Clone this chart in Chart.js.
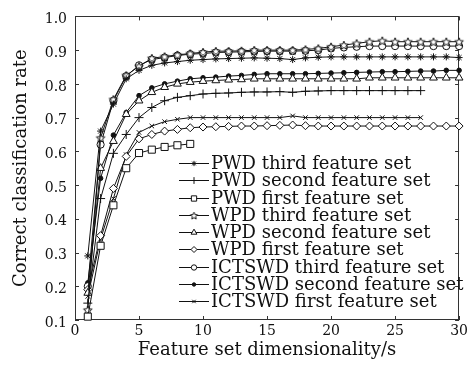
<!DOCTYPE html>
<html>
<head>
<meta charset="utf-8">
<script src="https://cdn.jsdelivr.net/npm/chart.js@4"></script>
<style>
  html, body { margin: 0; padding: 0; background: #fff; }
  #c { display: block; }
</style>
</head>
<body>
<canvas id="c" width="471" height="367"></canvas>
<script>
// ---------- data ----------
const dims = [1,2,3,4,5,6,7,8,9,10,11,12,13,14,15,16,17,18,19,20,21,22,23,24,25,26,27,28,29,30];
const xTicks = [0,5,10,15,20,25,30];
const yTicks = [0.1,0.2,0.3,0.4,0.5,0.6,0.7,0.8,0.9,1.0];

const pwdThird  = [0.29,0.66,0.74,0.815,0.84,0.855,0.862,0.866,0.870,0.872,0.874,0.875,0.876,0.877,0.876,0.875,0.872,0.877,0.879,0.880,0.880,0.880,0.880,0.880,0.880,0.880,0.880,0.880,0.880,0.878];
const pwdSecond = [0.15,0.46,0.594,0.65,0.70,0.73,0.75,0.76,0.765,0.77,0.772,0.773,0.775,0.776,0.776,0.777,0.775,0.778,0.779,0.780,0.780,0.780,0.780,0.780,0.780,0.780,0.780];
const pwdFirst  = [0.11,0.32,0.44,0.55,0.595,0.605,0.613,0.618,0.622];
const wpdThird  = [0.13,0.64,0.754,0.825,0.852,0.876,0.881,0.886,0.890,0.894,0.897,0.897,0.898,0.900,0.900,0.900,0.900,0.902,0.905,0.910,0.915,0.920,0.925,0.928,0.925,0.925,0.925,0.925,0.925,0.925];
const wpdSecond = [0.18,0.55,0.63,0.71,0.75,0.775,0.79,0.80,0.805,0.808,0.81,0.812,0.813,0.815,0.815,0.815,0.815,0.815,0.815,0.815,0.815,0.815,0.818,0.818,0.818,0.818,0.818,0.818,0.818,0.818];
const wpdFirst  = [0.19,0.35,0.49,0.585,0.637,0.65,0.66,0.665,0.67,0.672,0.673,0.674,0.675,0.675,0.676,0.677,0.678,0.676,0.675,0.675,0.675,0.675,0.675,0.675,0.675,0.675,0.675,0.675,0.675,0.675];
const ictThird  = [0.20,0.62,0.75,0.823,0.855,0.872,0.878,0.884,0.888,0.890,0.893,0.894,0.895,0.896,0.897,0.897,0.897,0.898,0.900,0.905,0.908,0.910,0.912,0.912,0.912,0.912,0.912,0.912,0.912,0.912];
const ictSecond = [0.21,0.52,0.648,0.715,0.765,0.788,0.80,0.808,0.815,0.818,0.82,0.823,0.825,0.828,0.830,0.830,0.830,0.830,0.831,0.832,0.833,0.834,0.835,0.836,0.836,0.837,0.838,0.838,0.840,0.840];
const ictFirst  = [0.17,0.34,0.46,0.59,0.656,0.675,0.688,0.695,0.70,0.70,0.70,0.70,0.70,0.70,0.70,0.70,0.705,0.70,0.70,0.70,0.70,0.70,0.70,0.70,0.70,0.70,0.70];

const labels = [
  'PWD third feature set','PWD second feature set','PWD first feature set',
  'WPD third feature set','WPD second feature set','WPD first feature set',
  'ICTSWD third feature set','ICTSWD second feature set','ICTSWD first feature set'
];

// ---------- styles ----------
const INK = '#111';
const SERIF = '"DejaVu Serif", serif';

function makePentagram(r) {
  const s = Math.ceil(r * 2 + 3);
  const c = document.createElement('canvas');
  c.width = s; c.height = s;
  const g = c.getContext('2d');
  g.translate(s / 2, s / 2 + 0.5);
  g.beginPath();
  for (let i = 0; i < 10; i++) {
    const rr = i % 2 ? r * 0.45 : r;
    const a = -Math.PI / 2 + i * Math.PI / 5;
    g.lineTo(rr * Math.cos(a), rr * Math.sin(a));
  }
  g.closePath();
  g.fillStyle = '#fff'; g.fill();
  g.strokeStyle = INK; g.lineWidth = 1; g.stroke();
  return c;
}
const pentagram = makePentagram(4.5);
const pentagramSmall = makePentagram(3.8);

const seriesValues = [pwdThird, pwdSecond, pwdFirst, wpdThird, wpdSecond, wpdFirst, ictThird, ictSecond, ictFirst];
const markerStyles = [
  {pointStyle: 'star', radius: 3.5, fill: INK},
  {pointStyle: 'cross', radius: 4.5, fill: INK},
  {pointStyle: 'rect', radius: 5, fill: '#fff'},
  {pointStyle: pentagram, radius: 4.5, fill: '#fff', legendStyle: pentagramSmall},
  {pointStyle: 'triangle', radius: 4.5, fill: '#fff'},
  {pointStyle: 'rectRot', radius: 4, fill: '#fff'},
  {pointStyle: 'circle', radius: 3.6, fill: '#fff'},
  {pointStyle: 'circle', radius: 2.3, fill: INK},
  {pointStyle: 'crossRot', radius: 3.2, fill: INK}
];

const datasets = seriesValues.map((vals, i) => ({
  label: labels[i],
  data: vals.map((v, j) => ({x: dims[j], y: v})),
  borderColor: INK,
  borderWidth: 1,
  pointStyle: markerStyles[i].pointStyle,
  pointRadius: markerStyles[i].radius,
  pointBorderColor: INK,
  pointBackgroundColor: markerStyles[i].fill,
  pointBorderWidth: 1,
  tension: 0,
  fill: false,
  clip: false
}));

// frame with inward ticks on all four sides
const framePlugin = {
  id: 'frame',
  beforeDatasetsDraw(chart) {
    const {ctx, chartArea: a, scales: {x, y}} = chart;
    ctx.save();
    ctx.strokeStyle = '#333';
    ctx.lineWidth = 1;
    ctx.strokeRect(Math.round(a.left) + 0.5, Math.round(a.top) + 0.5,
                   Math.round(a.right - a.left) - 1, Math.round(a.bottom - a.top) - 1);
    const L = 4;
    ctx.beginPath();
    xTicks.forEach(v => {
      const px = Math.round(x.getPixelForValue(v)) + 0.5;
      ctx.moveTo(px, a.bottom); ctx.lineTo(px, a.bottom - L);
      ctx.moveTo(px, a.top); ctx.lineTo(px, a.top + L);
    });
    yTicks.forEach(v => {
      const py = Math.round(y.getPixelForValue(v)) + 0.5;
      ctx.moveTo(a.left, py); ctx.lineTo(a.left + L, py);
      ctx.moveTo(a.right, py); ctx.lineTo(a.right - L, py);
    });
    ctx.stroke();
    ctx.restore();
  }
};

// legend drawn inside the plot area
const legendPlugin = {
  id: 'insideLegend',
  afterDatasetsDraw(chart) {
    const {ctx} = chart;
    const x0 = 179, x1 = 209, tx = 211, y0 = 163, dy = 17.25;
    ctx.save();
    ctx.font = '18px ' + SERIF;
    ctx.textBaseline = 'middle';
    ctx.textAlign = 'left';
    chart.data.datasets.forEach((ds, i) => {
      const yy = Math.round(y0 + i * dy) + 0.5;
      ctx.strokeStyle = INK; ctx.lineWidth = 1;
      ctx.beginPath(); ctx.moveTo(x0, yy); ctx.lineTo(x1, yy); ctx.stroke();
      ctx.fillStyle = ds.pointBackgroundColor;
      ctx.strokeStyle = ds.pointBorderColor;
      Chart.helpers.drawPoint(ctx, {
        pointStyle: markerStyles[i].legendStyle || ds.pointStyle,
        radius: ds.pointRadius * 0.75,
        borderWidth: 1,
        rotation: 0
      }, (x0 + x1) / 2, yy);
      ctx.fillStyle = INK;
      ctx.fillText(ds.label, tx, yy + 1);
    });
    ctx.restore();
  }
};

new Chart(document.getElementById('c'), {
  type: 'line',
  data: {datasets},
  options: {
    responsive: false,
    animation: false,
    layout: {padding: {top: 13, right: 6, left: 0, bottom: 0}},
    plugins: {legend: {display: false}, tooltip: {enabled: false}},
    scales: {
      x: {
        type: 'linear', min: 0, max: 30,
        afterBuildTicks: s => { s.ticks = xTicks.map(v => ({value: v})); },
        afterFit: s => { s.height = 47; },
        grid: {display: false, drawTicks: false},
        border: {display: false},
        ticks: {color: INK, font: {family: SERIF, size: 14}, padding: 3, maxRotation: 0, autoSkip: false},
        title: {display: true, text: 'Feature set dimensionality/s', color: INK,
                font: {family: SERIF, size: 18}, padding: {top: 0, bottom: 6}}
      },
      y: {
        type: 'linear', min: 0.1, max: 1.0,
        afterBuildTicks: s => { s.ticks = yTicks.map(v => ({value: v})); },
        afterFit: s => { s.width = 75; },
        grid: {display: false, drawTicks: false},
        border: {display: false},
        ticks: {color: INK, font: {family: SERIF, size: 14}, padding: 8, labelOffset: 3,
                autoSkip: false, callback: v => Number(v).toFixed(1)},
        title: {display: true, text: 'Correct classification rate', color: INK,
                font: {family: SERIF, size: 18}, padding: {top: 11, bottom: 0}}
      }
    }
  },
  plugins: [framePlugin, legendPlugin]
});
</script>
</body>
</html>
